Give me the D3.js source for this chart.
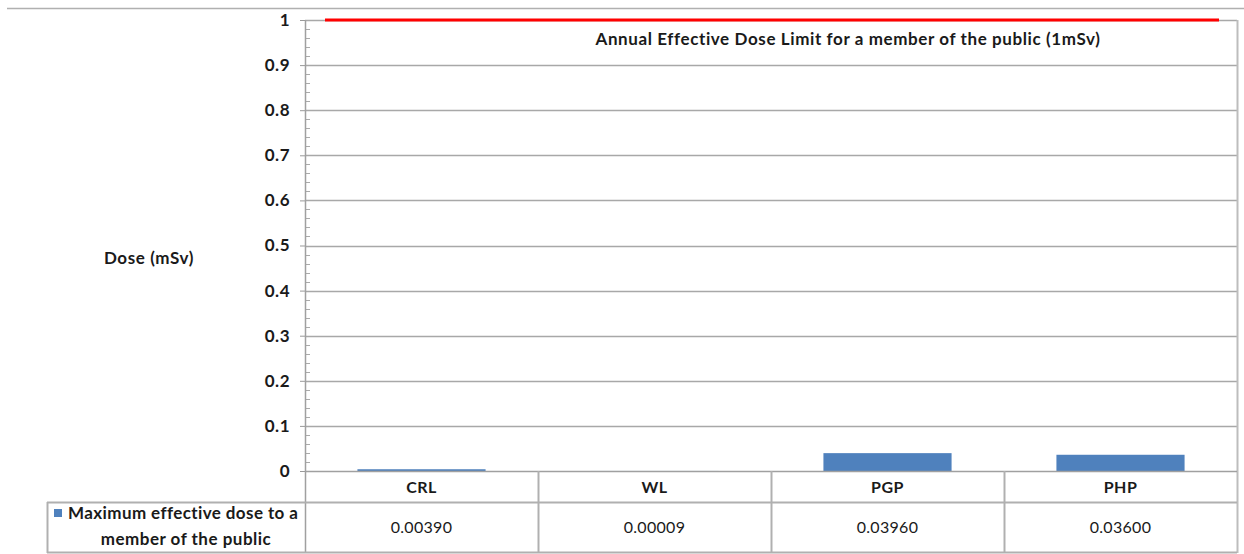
<!DOCTYPE html>
<html>
<head>
<meta charset="utf-8">
<script src="https://cdn.jsdelivr.net/npm/d3@7"></script>
<style>
  body { margin: 0; background: #fff; }
  text { font-family: Lato, "Open Sans", sans-serif; fill: #1a1a1a; }
</style>
</head>
<body>
<script>
// chart data
var sites = ["CRL", "WL", "PGP", "PHP"];
var maxDose = [0.00390, 0.00009, 0.03960, 0.03600];
var doseLabels = ["0.00390", "0.00009", "0.03960", "0.03600"];
var yTicks = [0, 0.1, 0.2, 0.3, 0.4, 0.5, 0.6, 0.7, 0.8, 0.9, 1];
var doseLimit = 1;
var seriesName = ["Maximum effective dose to a", "member of the public"];
var limitText = "Annual Effective Dose Limit for a member of the public (1mSv)";

var W = 1244, H = 554;
var plotL = 305, plotR = 1237, plotT = 20, base = 471;
var row1 = 502, row2 = 553;

var svg = d3.select("body").append("svg")
  .attr("width", W).attr("height", H);

// thin line across the top of the page
svg.append("line")
  .attr("x1", 7).attr("x2", W).attr("y1", 8.5).attr("y2", 8.5)
  .attr("stroke", "#b0b0b0").attr("stroke-width", 1.5);

var y = d3.scaleLinear().domain([0, 1]).range([base, plotT]);
var x = d3.scaleBand().domain(sites).range([plotL, plotR])
  .paddingInner(0.45).paddingOuter(0.225);
var col = d3.scaleBand().domain(sites).range([plotL, plotR]);

// gridlines
svg.append("g").selectAll("line")
  .data(yTicks.filter(function(d){ return d > 0; }))
  .enter().append("line")
  .attr("x1", plotL).attr("x2", plotR)
  .attr("y1", function(d){ return Math.round(y(d)) + 0.5; })
  .attr("y2", function(d){ return Math.round(y(d)) + 0.5; })
  .attr("stroke", "#a8a8a8").attr("stroke-width", 1.5);

// right border of plot
svg.append("line")
  .attr("x1", plotR + 0.5).attr("x2", plotR + 0.5)
  .attr("y1", plotT).attr("y2", row2)
  .attr("stroke", "#bdbdbd").attr("stroke-width", 2);

// y axis with major ticks
var yAxis = d3.axisLeft(y).tickValues(yTicks).tickSize(5).tickPadding(10)
  .tickFormat(function(d){ return d === 0 ? "0" : d3.format("~g")(d); });
var ga = svg.append("g").attr("transform", "translate(" + plotL + ",0)").call(yAxis);
ga.select(".domain").remove();
ga.selectAll(".tick line").attr("stroke", "#999");
ga.selectAll(".tick text")
  .attr("font-size", 17).attr("font-weight", "bold").attr("letter-spacing", 0.5)
  .style("font-family", "Lato, sans-serif").attr("fill", "#222");

// minor ticks on the inside
var minor = d3.range(0, 1.0001, 0.02).filter(function(d){ return Math.round(d * 50) % 5 !== 0; });
svg.append("g").selectAll("line").data(minor).enter().append("line")
  .attr("x1", plotL).attr("x2", plotL + 5)
  .attr("y1", function(d){ return Math.round(y(d)) + 0.5; })
  .attr("y2", function(d){ return Math.round(y(d)) + 0.5; })
  .attr("stroke", "#aaa").attr("stroke-width", 1);

// axis line
svg.append("line")
  .attr("x1", plotL + 0.5).attr("x2", plotL + 0.5).attr("y1", plotT).attr("y2", row2)
  .attr("stroke", "#a0a0a0").attr("stroke-width", 1.5);

// bars
svg.append("g").selectAll("rect")
  .data(maxDose).enter().append("rect")
  .attr("x", function(d, i){ return x(sites[i]); })
  .attr("width", x.bandwidth())
  .attr("y", function(d){ return y(d); })
  .attr("height", function(d){ return base - y(d); })
  .attr("fill", "#4f81bd");

// dose limit line
svg.append("line")
  .attr("x1", plotL + 20).attr("x2", plotR - 18)
  .attr("y1", y(doseLimit)).attr("y2", y(doseLimit))
  .attr("stroke", "#ff0000").attr("stroke-width", 3);

svg.append("text")
  .attr("x", 848).attr("y", 45)
  .attr("text-anchor", "middle")
  .attr("font-size", 17).attr("font-weight", "bold").attr("letter-spacing", 0.6)
  .text(limitText);

// y title
svg.append("text")
  .attr("x", 149).attr("y", 264)
  .attr("text-anchor", "middle")
  .attr("font-size", 17).attr("font-weight", "bold").attr("letter-spacing", 0.6)
  .text("Dose (mSv)");

// data table
var tbl = svg.append("g");
tbl.append("line").attr("x1", plotL).attr("x2", plotR).attr("y1", base + 0.5).attr("y2", base + 0.5)
  .attr("stroke", "#a0a0a0").attr("stroke-width", 1.5);
tbl.append("line").attr("x1", 47).attr("x2", plotR).attr("y1", row1 + 0.5).attr("y2", row1 + 0.5)
  .attr("stroke", "#b0b0b0").attr("stroke-width", 2);
tbl.append("line").attr("x1", 47).attr("x2", plotR).attr("y1", row2 - 0.5).attr("y2", row2 - 0.5)
  .attr("stroke", "#b0b0b0").attr("stroke-width", 2);
tbl.append("line").attr("x1", 47.5).attr("x2", 47.5).attr("y1", row1).attr("y2", row2)
  .attr("stroke", "#b0b0b0").attr("stroke-width", 2);

tbl.selectAll(".sep").data(sites.slice(1)).enter().append("line")
  .attr("x1", function(d){ return col(d) + 0.5; })
  .attr("x2", function(d){ return col(d) + 0.5; })
  .attr("y1", base).attr("y2", row2)
  .attr("stroke", "#b0b0b0").attr("stroke-width", 2);

tbl.selectAll(".cat").data(sites).enter().append("text")
  .attr("x", function(d){ return col(d) + col.bandwidth() / 2; })
  .attr("y", 493)
  .attr("text-anchor", "middle")
  .attr("font-size", 16).attr("font-weight", "bold").attr("letter-spacing", 0.5)
  .text(function(d){ return d; });

tbl.selectAll(".val").data(doseLabels).enter().append("text")
  .attr("x", function(d, i){ return col(sites[i]) + col.bandwidth() / 2; })
  .attr("y", 533)
  .attr("text-anchor", "middle")
  .attr("font-size", 16).attr("letter-spacing", 0.3)
  .text(function(d){ return d; });

// legend key in the table
tbl.append("rect").attr("x", 54).attr("y", 509).attr("width", 8).attr("height", 8)
  .attr("fill", "#4f81bd");
tbl.append("text").attr("x", 68).attr("y", 519)
  .attr("font-size", 17).attr("font-weight", "bold").attr("letter-spacing", 0.4)
  .text(seriesName[0]);
tbl.append("text").attr("x", 186).attr("y", 545)
  .attr("text-anchor", "middle")
  .attr("font-size", 17).attr("font-weight", "bold").attr("letter-spacing", 0.5)
  .text(seriesName[1]);
</script>
</body>
</html>
